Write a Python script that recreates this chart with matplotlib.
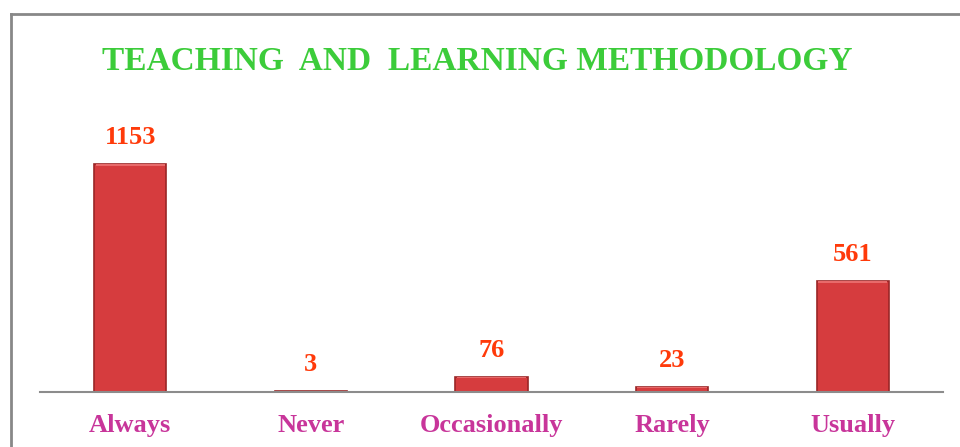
import numpy as np
import matplotlib.pyplot as plt
from matplotlib.lines import Line2D

categories = ['Always', 'Never', 'Occasionally', 'Rarely', 'Usually']
counts = [1153, 3, 76, 23, 561]
title = 'TEACHING  AND  LEARNING METHODOLOGY'

fig = plt.figure(figsize=(9.6, 4.47), dpi=100)
ax = fig.add_axes([40/960, 1 - 392/447, 903/960, 292/447])

x = np.arange(len(categories))
bars = ax.bar(x, counts, width=0.4, color='#d63c3e', edgecolor='#9a2626', linewidth=1.2)
# lighter bevel strip along the top of each bar
for b, v in zip(bars, counts):
    h = min(v * 0.06, 12)
    ax.bar(b.get_x() + b.get_width()/2, h, bottom=v - h, width=0.4*0.96,
           color='#e86a6a', linewidth=0)

for xi, v in zip(x, counts):
    ax.annotate(str(v), (xi, v), xytext=(0, 11), textcoords='offset points',
                ha='center', va='bottom', fontsize=19, fontweight='bold',
                family='Liberation Serif', color='#ff3a0a')

ax.set_xlim(-0.5, 4.5)
ax.set_ylim(0, 1153 * 292 / 228)
ax.set_xticks(x)
ax.set_xticklabels(categories, fontsize=19, fontweight='bold',
                   family='Liberation Serif', color='#c8359a')
ax.tick_params(axis='x', length=0, pad=16)
ax.set_yticks([])
for s in ['top', 'right', 'left']:
    ax.spines[s].set_visible(False)
ax.spines['bottom'].set_color('#8c8c8c')
ax.spines['bottom'].set_linewidth(1.5)

fig.text(477/960, 1 - 62/447, title, ha='center', va='center', fontsize=24,
         fontweight='bold', family='Liberation Serif', color='#3ccc3a')

# chart frame (top and left edges visible)
fig.add_artist(Line2D([10.5/960, 1], [1 - 13.5/447, 1 - 13.5/447], color='#888888', lw=2))
fig.add_artist(Line2D([10.5/960, 10.5/960], [0, 1 - 13.5/447], color='#888888', lw=2))

fig.savefig('out.png', dpi=100)
